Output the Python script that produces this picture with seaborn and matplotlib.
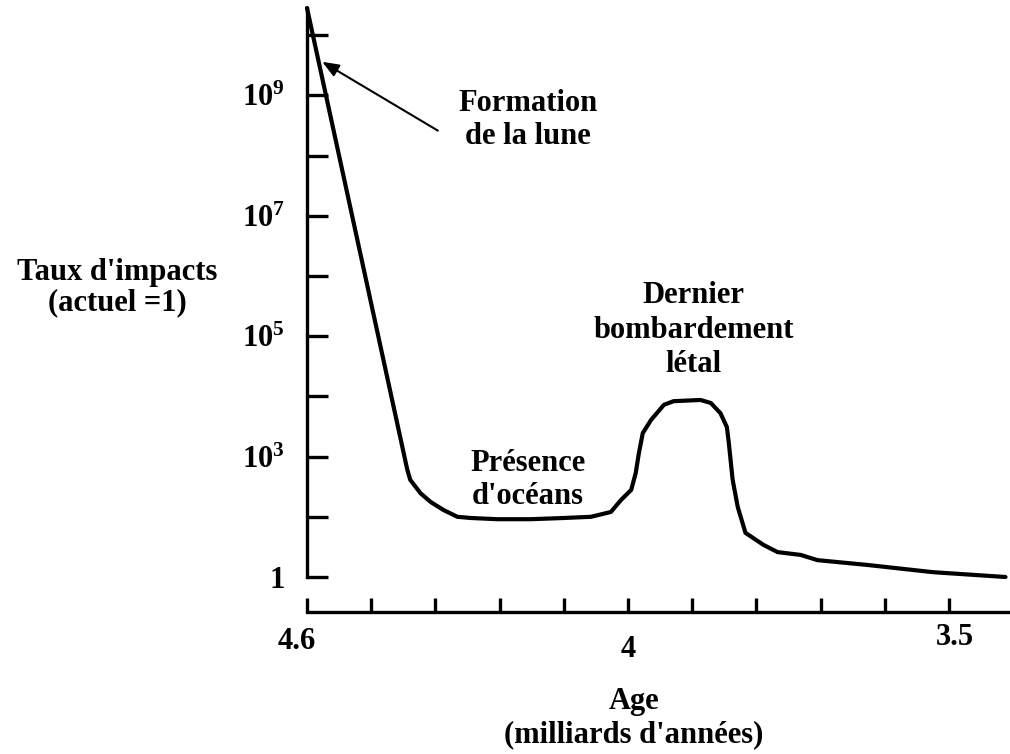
import numpy as np
import pandas as pd
import matplotlib
matplotlib.use('Agg')
import matplotlib.pyplot as plt
import seaborn as sns
from matplotlib.ticker import FixedLocator, FixedFormatter, NullFormatter
from matplotlib.transforms import ScaledTranslation

# ages (billion years) and log10 of impact rate (present = 1)
age = [4.6, 4.4125, 4.407, 4.388, 4.369, 4.345, 4.319, 4.294, 4.244, 4.182,
       4.12, 4.069, 4.032, 4.013, 3.995, 3.988, 3.983, 3.977, 3.964, 3.944,
       3.929, 3.887, 3.871, 3.856, 3.846, 3.843, 3.837, 3.829, 3.817, 3.789,
       3.767, 3.731, 3.705, 3.627, 3.525, 3.412]
log_rate = [10.45, 2.67, 2.42, 2.09, 1.87, 1.67, 1.50, 1.47, 1.44, 1.44,
            1.47, 1.50, 1.62, 1.92, 2.17, 2.59, 3.06, 3.39, 3.61, 3.86,
            3.92, 3.94, 3.89, 3.72, 3.49, 3.23, 2.42, 1.74, 1.10, 0.80,
            0.62, 0.55, 0.42, 0.30, 0.12, 0.0]

x_ticks = [4.6, 4.0, 3.5]
x_tick_labels = ['4.6', '4', '3.5']
x_minor_ticks = [4.48, 4.36, 4.24, 4.12, 3.9, 3.8, 3.7, 3.6]

y_ticks = [1, 1e3, 1e5, 1e7, 1e9]
y_tick_labels = ['1', r'$\mathbf{10^{3}}$', r'$\mathbf{10^{5}}$',
                 r'$\mathbf{10^{7}}$', r'$\mathbf{10^{9}}$']
y_minor_ticks = [10 ** 1.5, 1e4, 1e6, 1e8, 1e10]

df = pd.DataFrame({'age': age, 'rate': 10.0 ** np.array(log_rate)})


# the schematic axes are not uniform: two pieces on x, compressed bottom on y
def age_fwd(a):
    a = np.asarray(a, dtype=float)
    return np.where(a >= 4.0, 5 + (a - 4.0) / 0.6 * 5, 5 - (4.0 - a) / 0.5 * 5)


def age_inv(p):
    p = np.asarray(p, dtype=float)
    return np.where(p >= 5, 4.0 + (p - 5) * 0.12, 4.0 - (5 - p) * 0.1)


def rate_fwd(v):
    v = np.asarray(v, dtype=float)
    L = np.log10(np.maximum(v, 1e-300))
    return np.where(L >= 3, L, 1 + L * 2 / 3)


def rate_inv(q):
    q = np.asarray(q, dtype=float)
    L = np.where(q >= 3, q, (q - 1) * 1.5)
    return 10.0 ** L


sns.set_style('ticks')
plt.rcParams['font.family'] = ['Liberation Serif', 'DejaVu Serif']
plt.rcParams['font.weight'] = 'bold'
plt.rcParams['mathtext.fontset'] = 'custom'
plt.rcParams['mathtext.rm'] = 'Liberation Serif:bold'
plt.rcParams['mathtext.bf'] = 'Liberation Serif:bold'
for key in ['text.color', 'axes.labelcolor', 'xtick.color', 'ytick.color', 'axes.edgecolor']:
    plt.rcParams[key] = 'black'

FS = 22

fig = plt.figure(figsize=(10.1, 7.54), dpi=100)
ax = fig.add_axes([307 / 1010, 1 - 577 / 754, 1 - 307 / 1010, (577 - 8) / 754])

ax.set_xscale('function', functions=(age_fwd, age_inv))
ax.set_yscale('function', functions=(rate_fwd, rate_inv))

sns.lineplot(data=df, x='age', y='rate', ax=ax, sort=False, estimator=None,
             color='black', linewidth=3, clip_on=False)

ax.set_xlim(4.6, 3.405)
ax.set_ylim(1, 10 ** 10.45)

ax.xaxis.set_major_locator(FixedLocator(x_ticks))
ax.xaxis.set_major_formatter(FixedFormatter(x_tick_labels))
ax.xaxis.set_minor_locator(FixedLocator(x_minor_ticks))
ax.xaxis.set_minor_formatter(NullFormatter())
ax.yaxis.set_major_locator(FixedLocator(y_ticks))
ax.yaxis.set_major_formatter(FixedFormatter(y_tick_labels))
ax.yaxis.set_minor_locator(FixedLocator(y_minor_ticks))
ax.yaxis.set_minor_formatter(NullFormatter())

ax.tick_params(axis='x', which='both', direction='in', length=10, width=2.4,
               pad=11, labelsize=FS)
ax.tick_params(axis='y', which='both', direction='in', length=15, width=2.4,
               pad=16, labelsize=FS)

for side in ['top', 'right']:
    ax.spines[side].set_visible(False)
for side in ['left', 'bottom']:
    ax.spines[side].set_linewidth(2.4)
ax.spines['bottom'].set_position(('outward', 25.2))
ax.set_xlabel('')
ax.set_ylabel('')

# nudge the x labels like in the drawing
offsets = [(-10, 0), (0, -8), (6, 4)]
for lab, (dx, dy) in zip(ax.get_xticklabels(), offsets):
    lab.set_transform(lab.get_transform() + ScaledTranslation(dx / 100, dy / 100, fig.dpi_scale_trans))

ax.annotate('', xy=(4.576, 10 ** 9.58), xytext=(4.351, 10 ** 8.39),
            arrowprops=dict(arrowstyle='-|>,head_length=1.0,head_width=0.4',
                            color='black', lw=1.5))

ax.text(4.1875, 10 ** 8.59, 'Formation\nde la lune', ha='center', va='center',
        fontsize=FS, fontweight='bold', linespacing=1.15)
ax.text(4.1875, 10 ** 2.42, "Présence\nd'océans", ha='center', va='center',
        fontsize=FS, fontweight='bold', linespacing=1.2)
ax.text(3.8975, 10 ** 5.10, 'Dernier\nbombardement\nlétal', ha='center',
        va='center', fontsize=FS, fontweight='bold', linespacing=1.25)

fig.text(117 / 1010, 1 - 288 / 754, "Taux d'impacts\n(actuel =1)", ha='center',
         va='center', fontsize=FS, fontweight='bold', linespacing=1.05)
fig.text(634 / 1010, 1 - 718 / 754, "Age\n(milliards d'années)", ha='center',
         va='center', fontsize=FS, fontweight='bold', linespacing=1.2)

plt.savefig('out.png', dpi=100)
